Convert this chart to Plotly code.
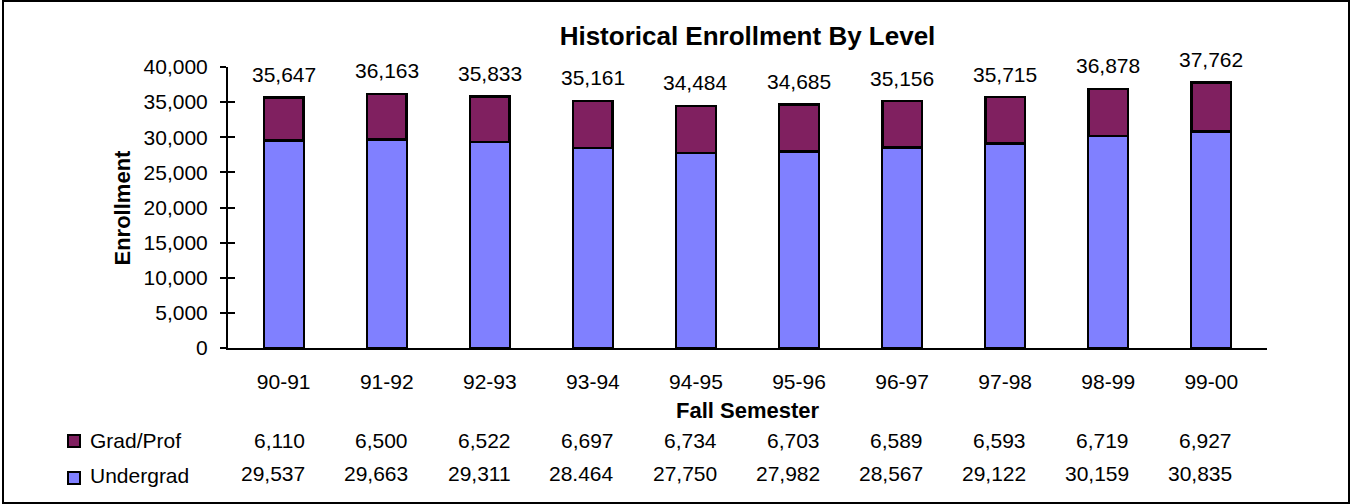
import plotly.graph_objects as go

# data
semesters = ["90-91", "91-92", "92-93", "93-94", "94-95",
             "95-96", "96-97", "97-98", "98-99", "99-00"]
grad_prof = [6110, 6500, 6522, 6697, 6734, 6703, 6589, 6593, 6719, 6927]
undergrad = [29537, 29663, 29311, 28464, 27750, 27982, 28567, 29122, 30159, 30835]
# data table text as printed (one value shows a period instead of a comma)
undergrad_text = ["29,537", "29,663", "29,311", "28.464", "27,750",
                  "27,982", "28,567", "29,122", "30,159", "30,835"]
totals = [g + u for g, u in zip(grad_prof, undergrad)]

W, H = 1351, 504
# plot area in pixels
L, R, T, B = 228, 1267, 67, 348

FONT = "Liberation Sans, Arial, sans-serif"
PURPLE = "#802060"
BLUE = "#8080FF"
TXT = 21


def px(x):
    return (x - L) / (R - L)


def py(y):
    return (B - y) / (B - T)


fig = go.Figure()
fig.add_trace(go.Bar(
    x=semesters, y=undergrad, name="Undergrad",
    marker=dict(color=BLUE, line=dict(color="black", width=2)),
    width=0.385,
))
fig.add_trace(go.Bar(
    x=semesters, y=grad_prof, name="Grad/Prof",
    marker=dict(color=PURPLE, line=dict(color="black", width=2.5)),
    width=0.385,
))
# dummy trace to carry the inner half of the crossing y ticks
fig.add_trace(go.Scatter(x=semesters, y=totals, yaxis="y2",
                         mode="markers", marker=dict(opacity=0),
                         showlegend=False, hoverinfo="skip"))

annotations = []
# totals above the bars
for s, t in zip(semesters, totals):
    annotations.append(dict(
        x=s, y=t, xref="x", yref="y", text=f"{t:,}",
        showarrow=False, yanchor="middle", yshift=23,
        font=dict(size=TXT, color="black", family=FONT)))

# data table rows
for s, g, ut in zip(semesters, grad_prof, undergrad_text):
    annotations.append(dict(
        x=s, y=py(440), xref="x", yref="paper", text=f"{g:,}",
        showarrow=False, xanchor="right", xshift=23, yanchor="middle",
        font=dict(size=TXT, color="black", family=FONT)))
    annotations.append(dict(
        x=s, y=py(473), xref="x", yref="paper", text=ut,
        showarrow=False, xanchor="right", xshift=23, yanchor="middle",
        font=dict(size=TXT, color="black", family=FONT)))

# legend labels for the table
for label, yy in [("Grad/Prof", 440), ("Undergrad", 476)]:
    annotations.append(dict(
        x=px(88), y=py(yy), xref="paper", yref="paper", text=label,
        showarrow=False, xanchor="left", yanchor="middle",
        font=dict(size=TXT, color="black", family=FONT)))

# axis titles
annotations.append(dict(
    x=0.5, y=py(410), xref="paper", yref="paper", text="<b>Fall Semester</b>",
    showarrow=False, xanchor="center", yanchor="middle",
    font=dict(size=22, color="black", family=FONT)))
annotations.append(dict(
    x=px(122), y=0.5, xref="paper", yref="paper", text="<b>Enrollment</b>",
    showarrow=False, textangle=-90, xanchor="center", yanchor="middle",
    font=dict(size=22, color="black", family=FONT)))

shapes = [
    # outer chart border
    dict(type="rect", xref="paper", yref="paper",
         x0=px(3), x1=px(1349), y0=py(1), y1=py(503),
         line=dict(color="black", width=2), fillcolor="rgba(0,0,0,0)"),
    # legend keys
    dict(type="rect", xref="paper", yref="paper",
         x0=px(68), x1=px(80), y0=py(435), y1=py(447),
         line=dict(color="black", width=2), fillcolor=PURPLE),
    dict(type="rect", xref="paper", yref="paper",
         x0=px(68), x1=px(80), y0=py(472), y1=py(484),
         line=dict(color="black", width=2), fillcolor=BLUE),
]

fig.update_layout(
    width=W, height=H,
    barmode="stack",
    showlegend=False,
    plot_bgcolor="white",
    paper_bgcolor="white",
    margin=dict(l=L, r=W - R, t=T, b=H - B, pad=0),
    font=dict(family=FONT, size=TXT, color="black"),
    title=dict(text="<b>Historical Enrollment By Level</b>",
               x=0.5, xref="paper", xanchor="center",
               y=1 - 36 / H, yref="container", yanchor="middle",
               font=dict(size=26, family=FONT, color="black")),
    xaxis=dict(
        showline=True, linecolor="black", linewidth=2,
        showgrid=False, ticks="", ticklabelstandoff=14,
        tickfont=dict(size=TXT),
    ),
    yaxis=dict(
        range=[0, 40000], tickvals=list(range(0, 40001, 5000)),
        tickformat=",d", showline=True, linecolor="black", linewidth=2,
        showgrid=False, zeroline=False,
        ticks="outside", ticklen=6, tickwidth=2, tickcolor="black",
        ticklabelstandoff=8, tickfont=dict(size=TXT),
    ),
    yaxis2=dict(
        range=[0, 40000], overlaying="y", side="left",
        tickvals=list(range(0, 40001, 5000)), showticklabels=False,
        ticks="inside", ticklen=7, tickwidth=2, tickcolor="black",
        showgrid=False, zeroline=False, showline=False,
    ),
    annotations=annotations,
    shapes=shapes,
)

# drop the page's default body margin so the figure sits at the top-left
fig.write_html("out.html", config={"displayModeBar": False},
               post_script="document.body.style.margin='0';")
